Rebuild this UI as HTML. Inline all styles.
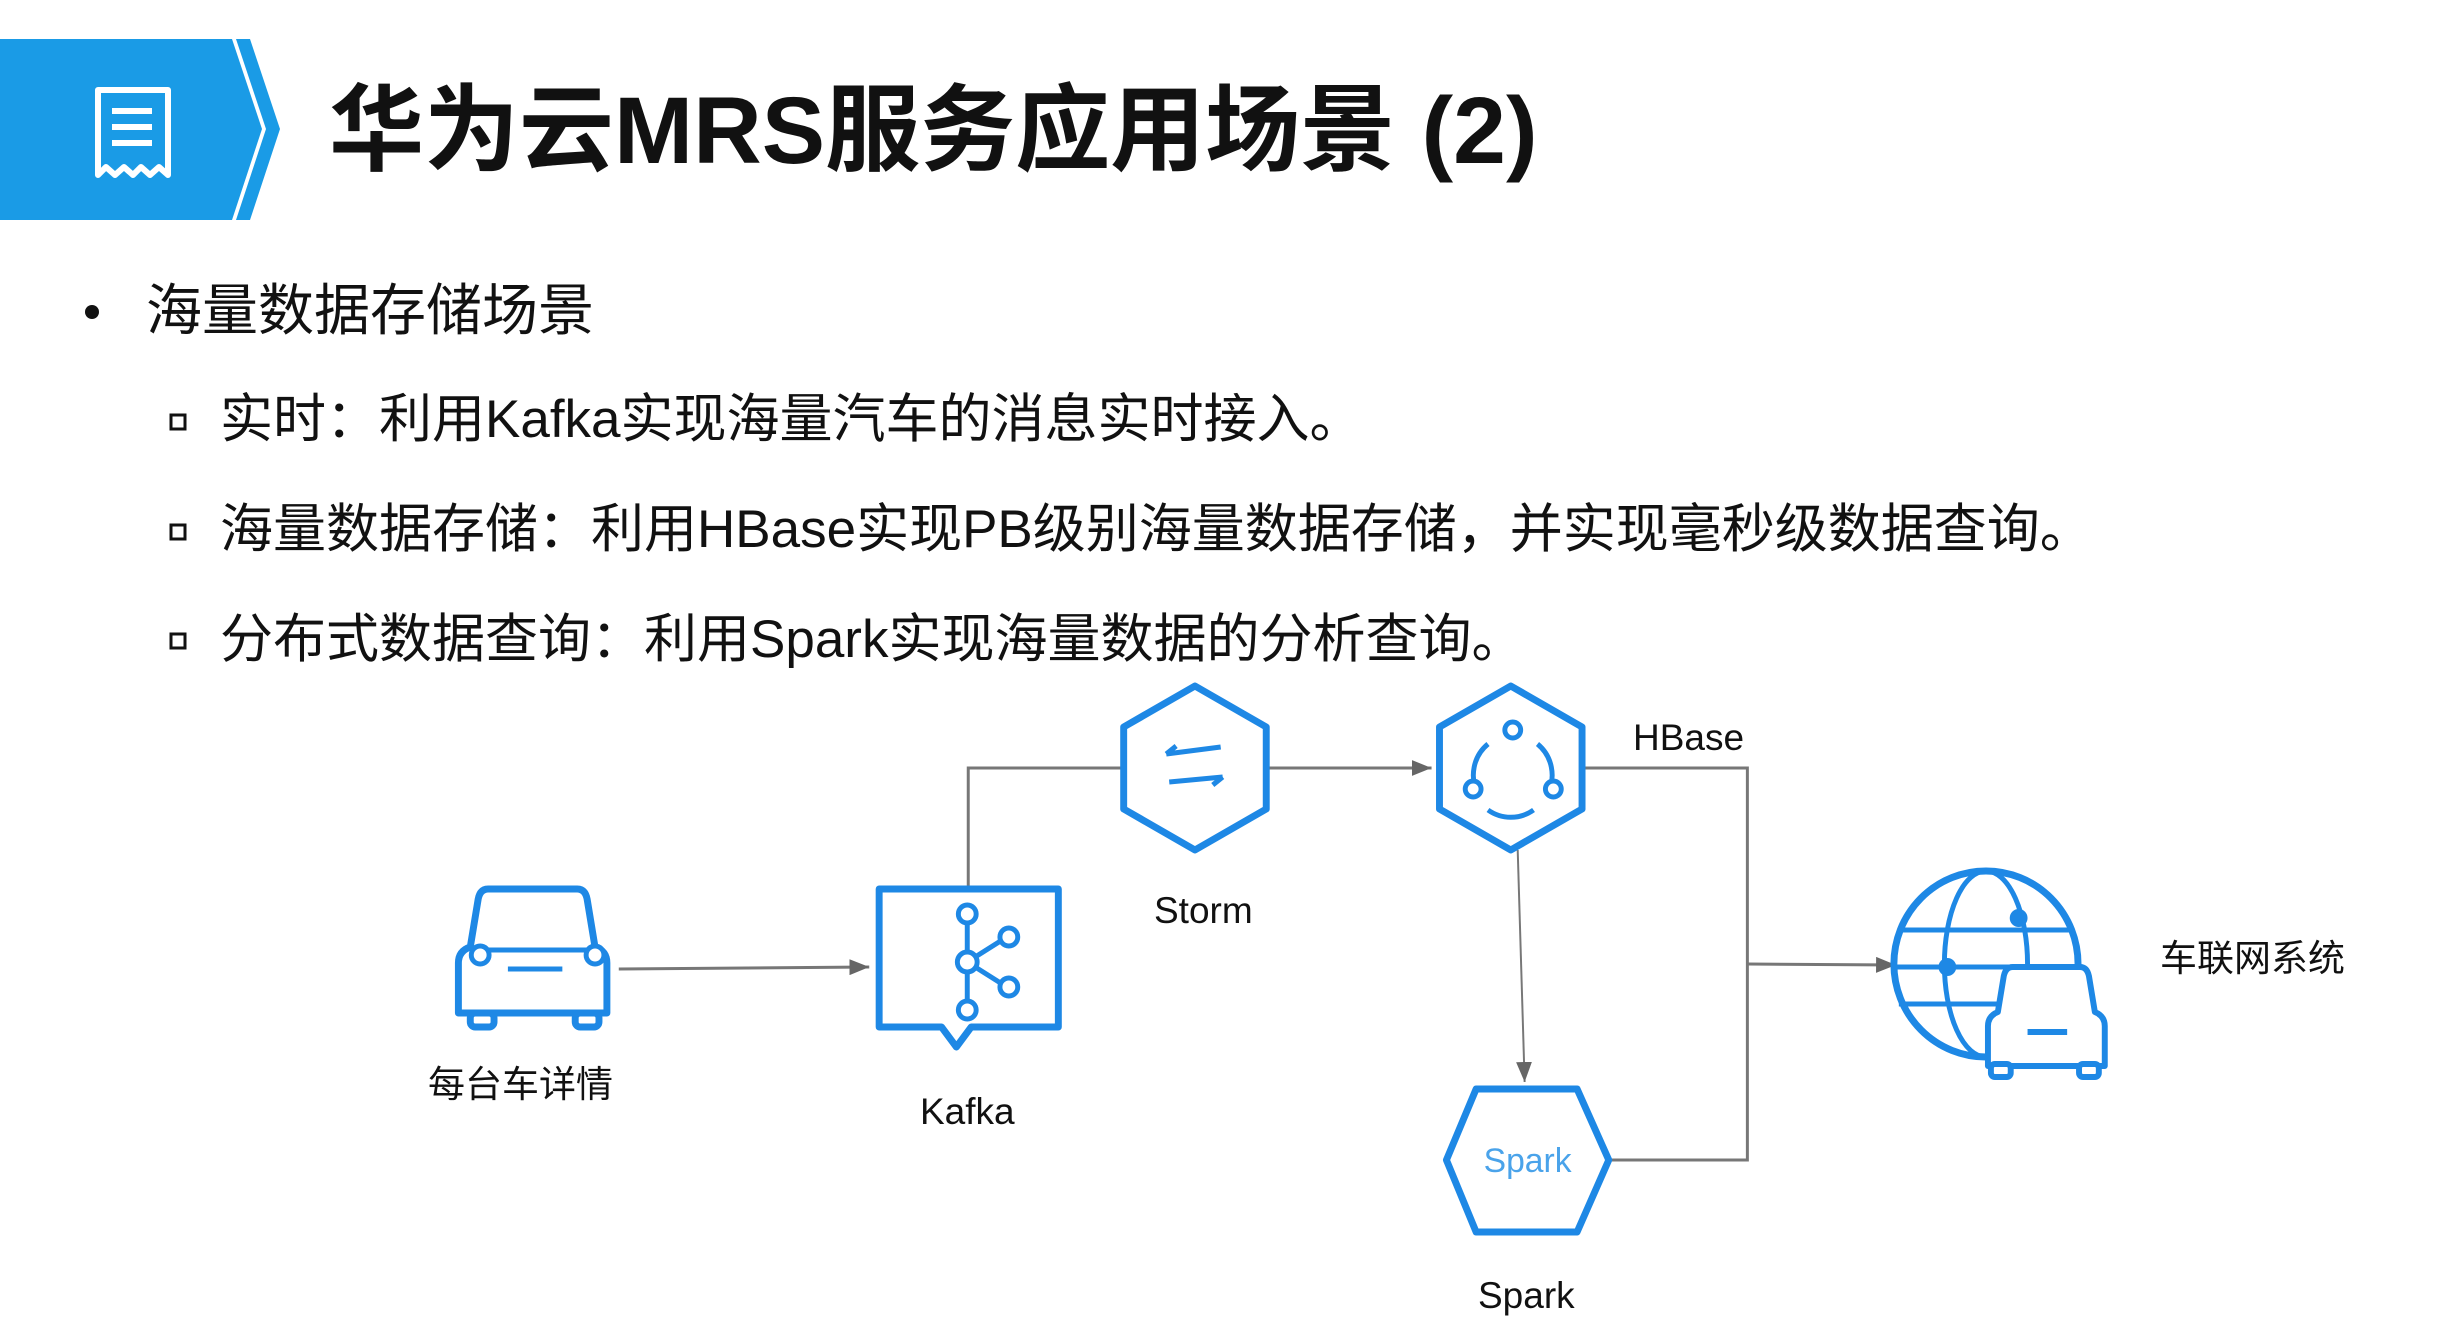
<!DOCTYPE html>
<html><head><meta charset="utf-8"><style>
body{margin:0;width:2438px;height:1326px;background:#fff;overflow:hidden;font-family:"Liberation Sans","Noto Sans CJK SC",sans-serif}
.t{position:absolute;white-space:nowrap;color:#111}
</style></head><body>
<svg width="2438" height="1326" style="position:absolute;left:0;top:0" xmlns="http://www.w3.org/2000/svg">
<defs>
<marker id="b" markerWidth="20" markerHeight="16" refX="20" refY="8" orient="auto" markerUnits="userSpaceOnUse"><path d="M0,0 L20,8 L0,16 z" fill="#666"/></marker></defs>
<polygon points="0,39 232,39 262,129 232,220 0,220" fill="#1a9be6"/>
<polygon points="236,39 250,39 280,129 250,220 236,220 266,129" fill="#1a9be6"/>
<path d="M98,90 h70 v85 l-9,-8 -9,8 -9,-8 -8,8 -9,-8 -9,8 -9,-8 -8,8z" fill="none" stroke="#fff" stroke-width="6" stroke-linejoin="round"/>
<rect x="112" y="108" width="40" height="6" fill="#fff"/><rect x="112" y="124" width="40" height="6" fill="#fff"/><rect x="112" y="140" width="40" height="6" fill="#fff"/>
<circle cx="92" cy="312" r="7" fill="#111"/>
<rect x="171" y="415" width="14" height="14" fill="none" stroke="#111" stroke-width="3"/>
<rect x="171" y="525" width="14" height="14" fill="none" stroke="#111" stroke-width="3"/>
<rect x="171" y="634" width="14" height="14" fill="none" stroke="#111" stroke-width="3"/>
<g transform="translate(3,-8) scale(0.99,1)">
<g stroke="#777" stroke-width="3" fill="none">
<line x1="622" y1="977" x2="875" y2="975" marker-end="url(#b)"/>
<polyline points="975,897 975,776 1129,776"/>
<line x1="1278" y1="776" x2="1443" y2="776" marker-end="url(#b)"/>
<polyline points="1596,776 1762,776 1762,1168 1620,1168"/>
<line x1="1762" y1="972" x2="1912" y2="973" marker-end="url(#b)"/>
<line x1="1530" y1="858" x2="1537" y2="1090" stroke-width="2" marker-end="url(#b)"/>
</g>
<g stroke="#1e88e5" stroke-width="7" fill="#fff" stroke-linejoin="round">
<polygon points="1204,694 1276,735 1276,817 1204,858 1132,817 1132,735"/>
<polygon points="1523,694 1595,735 1595,817 1523,858 1451,817 1451,735"/>
<polygon points="1488,1097 1590,1097 1622,1168 1590,1240 1488,1240 1458,1168"/>
<path d="M885,897 h181 v138 h-88 l-15,20 -15,-20 h-63z"/>
<path d="M490,897 h90 q8,0 10,10 l8,48 q12,4 12,16 v50 h-150 v-50 q0,-12 12,-16 l8,-48 q2,-10 10,-10z"/>
<rect x="472" y="1021" width="24" height="14" rx="5"/><rect x="578" y="1021" width="24" height="14" rx="5"/>
</g>
<g stroke="#1e88e5" stroke-width="5" fill="none">
<line x1="1175" y1="762" x2="1230" y2="755"/><line x1="1178" y1="790" x2="1232" y2="785"/>
<path d="M1175,762 l10,-8 M1232,785 l-10,8"/>
<path d="M1500,752 a40,40 0 0 0 -10,50 M1550,752 a40,40 0 0 1 10,50 M1500,818 a40,40 0 0 0 46,0"/>
<circle cx="1525" cy="738" r="8" fill="#fff"/><circle cx="1485" cy="797" r="8" fill="#fff"/><circle cx="1566" cy="797" r="8" fill="#fff"/>
<line x1="490" y1="958" x2="590" y2="958"/><line x1="510" y1="977" x2="565" y2="977"/>
<circle cx="482" cy="963" r="9" fill="#fff"/><circle cx="598" cy="963" r="9" fill="#fff"/>
<line x1="974" y1="932" x2="974" y2="1010"/><line x1="974" y1="970" x2="1014" y2="945"/><line x1="974" y1="970" x2="1014" y2="995"/>
<circle cx="974" cy="922" r="9" fill="#fff"/><circle cx="974" cy="970" r="10" fill="#fff"/><circle cx="974" cy="1018" r="9" fill="#fff"/>
<circle cx="1016" cy="945" r="9" fill="#fff"/><circle cx="1016" cy="995" r="9" fill="#fff"/>
</g>
<g transform="translate(15,0)">
<g stroke="#1e88e5" stroke-width="5" fill="none">
<circle cx="1988" cy="972" r="93" stroke-width="7"/>
<ellipse cx="1988" cy="972" rx="42" ry="93"/>
<line x1="1900" y1="938" x2="2076" y2="938"/><line x1="1895" y1="975" x2="2081" y2="975"/><line x1="1900" y1="1012" x2="2076" y2="1012"/>
</g>
<circle cx="1949" cy="975" r="9" fill="#1e88e5"/><circle cx="2021" cy="926" r="9" fill="#1e88e5"/>
<g stroke="#1e88e5" stroke-width="6" fill="#fff" stroke-linejoin="round">
<path d="M2015,975 h68 q7,0 9,9 l6,36 q10,4 10,14 v40 h-118 v-40 q0,-10 10,-14 l6,-36 q2,-9 9,-9z"/>
<rect x="1993" y="1072" width="20" height="13" rx="4"/><rect x="2082" y="1072" width="20" height="13" rx="4"/>
<line x1="2030" y1="1040" x2="2070" y2="1040"/>
</g>
</g>
<text x="1540" y="1180" font-size="34" fill="#4aa3ea" text-anchor="middle" font-family="Liberation Sans,sans-serif">Spark</text>
</g>
</svg>
<div class="t" style="left:329px;top:54px;font-size:95px;font-weight:bold">华为云MRS服务应用场景 (2)</div>
<div class="t" style="left:146px;top:266px;font-size:56px">海量数据存储场景</div>
<div class="t" style="left:220px;top:377px;font-size:53px">实时：利用Kafka实现海量汽车的消息实时接入。</div>
<div class="t" style="left:220px;top:487px;font-size:53px">海量数据存储：利用HBase实现PB级别海量数据存储，并实现毫秒级数据查询。</div>
<div class="t" style="left:220px;top:597px;font-size:53px">分布式数据查询：利用Spark实现海量数据的分析查询。</div>
<div class="t" style="left:1154px;top:890px;font-size:37px">Storm</div>
<div class="t" style="left:1633px;top:717px;font-size:37px">HBase</div>
<div class="t" style="left:920px;top:1091px;font-size:37px">Kafka</div>
<div class="t" style="left:428px;top:1054px;font-size:37px">每台车详情</div>
<div class="t" style="left:1478px;top:1275px;font-size:37px">Spark</div>
<div class="t" style="left:2160px;top:928px;font-size:37px">车联网系统</div>
</body></html>
